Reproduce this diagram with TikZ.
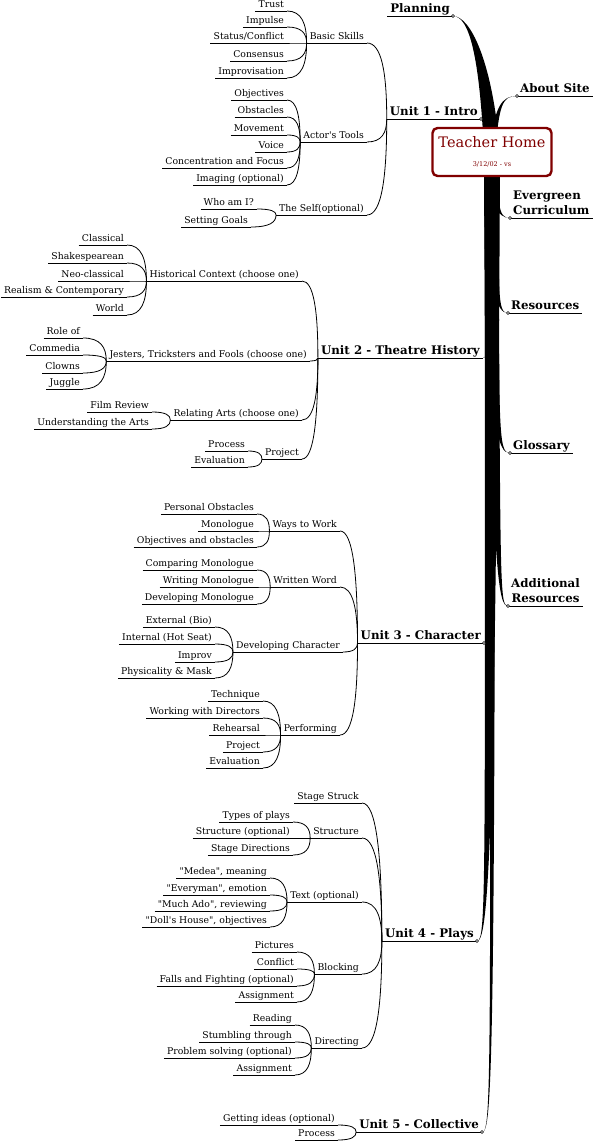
\documentclass[tikz,border=0pt]{standalone}
\usepackage{fontspec}
\setmainfont{DejaVu Serif}
\usepackage{tikz}
\usetikzlibrary{calc, backgrounds}
\usepackage{xcolor}
\definecolor{homered}{RGB}{128, 0, 0}
\definecolor{inkdark}{RGB}{0, 0, 0}
\newcommand{\leaffont}{\fontsize{9.3}{11}\selectfont}
\newcommand{\unitfont}{\fontsize{11.8}{15}\selectfont\bfseries}

% tapered branch from the hub to a main topic
\newcommand{\mapbranch}[4]{%
  \fill[inkdark] ($(home.center)+(-#2,0)$) .. controls ($(#3)+(-0.8*#2,0)$) and (#4) .. (#1)
    .. controls (#4) and ($(#3)+(0.8*#2,0)$) .. ($(home.center)+(#2,0)$) -- cycle;}

\begin{document}
\begin{tikzpicture}[
    x=1pt, y=-1pt,
    leaf/.style={font=\leaffont, inner xsep=3pt, inner ysep=1pt, text height=6.8pt, text depth=2.2pt, anchor=south east,
        append after command={(\tikzlastnode.south west) edge[line width=0.8pt] (\tikzlastnode.south east)}},
    unit/.style={font=\unitfont, inner xsep=3pt, inner ysep=1pt, text height=8.5pt, text depth=2.6pt, anchor=south east,
        append after command={(\tikzlastnode.south west) edge[line width=1pt] (\tikzlastnode.south east)}},
    side/.style={unit, anchor=south west, align=left},
    home/.style={draw=homered, line width=2.4pt, rounded corners=5pt, fill=white, text=homered, minimum width=119pt, minimum height=48pt, align=center, font=\fontsize{14.5}{16}\selectfont},
    link/.style={line width=0.8pt, to path={.. controls ($(\tikztostart)!0.75!(\tikztostart -| \tikztotarget)$) and ($(\tikztotarget)!0.6!(\tikztostart -| \tikztotarget)$) .. (\tikztotarget)}},
    knot/.style={draw, line width=0.6pt, fill=white}
]
\useasboundingbox (0,0) rectangle (598,1143);

% Hub
\node[home] (home) at (492,152) {Teacher Home\\[3pt]{\fontsize{6.5}{7}\selectfont 3/12/02 - vs}};

% Right side topics
\node[unit] (planning) at (453,16) {Planning};
\node[side] (about) at (517,96) {About Site};
\node[side] (evergreen) at (510,218) {Evergreen\\Curriculum};
\node[side] (resources) at (508,313) {Resources};
\node[side] (glossary) at (510,453) {Glossary};
\node[side, align=center] (additional) at (508,606) {Additional\\Resources};

% Unit 1
\node[unit] (intro) at (481,119) {Unit 1 - Intro};
\node[leaf] (basic) at (367,43) {Basic Skills};
\node[leaf] (tools) at (367,142) {Actor\textquotesingle s Tools};
\node[leaf] (self) at (367,215) {The Self(optional)};
\node[leaf] (trust) at (287,11) {Trust};
\node[leaf] (impulse) at (287,27) {Impulse};
\node[leaf] (status) at (287,43) {Status/Conflict};
\node[leaf] (consensus) at (287,61) {Consensus};
\node[leaf] (improvisation) at (287,78) {Improvisation};
\node[leaf] (objectives) at (287,100) {Objectives};
\node[leaf] (obstacles) at (287,117) {Obstacles};
\node[leaf] (movement) at (287,135) {Movement};
\node[leaf] (voice) at (287,152) {Voice};
\node[leaf] (focus) at (287,168) {Concentration and Focus};
\node[leaf] (imaging) at (287,185) {Imaging (optional)};
\node[leaf] (whoami) at (257,209) {Who am I?};
\node[leaf] (goals) at (251,227) {Setting Goals};

\draw[link] (trust.south east) to (basic.south west);
\draw[link] (impulse.south east) to (basic.south west);
\draw[link] (status.south east) to (basic.south west);
\draw[link] (consensus.south east) to (basic.south west);
\draw[link] (improvisation.south east) to (basic.south west);
\draw[link] (objectives.south east) to (tools.south west);
\draw[link] (obstacles.south east) to (tools.south west);
\draw[link] (movement.south east) to (tools.south west);
\draw[link] (voice.south east) to (tools.south west);
\draw[link] (focus.south east) to (tools.south west);
\draw[link] (imaging.south east) to (tools.south west);
\draw[link] (whoami.south east) to (self.south west);
\draw[link] (goals.south east) to (self.south west);
\draw[link] (basic.south east) to (intro.south west);
\draw[link] (tools.south east) to (intro.south west);
\draw[link] (self.south east) to (intro.south west);

% Unit 2
\node[unit] (history) at (483,358) {Unit 2 - Theatre History};
\node[leaf] (context) at (302,281) {Historical Context (choose one)};
\node[leaf] (jesters) at (310,361) {Jesters, Tricksters and Fools (choose one)};
\node[leaf] (relating) at (302,420) {Relating Arts (choose one)};
\node[leaf] (project) at (302,459) {Project};
\node[leaf] (classical) at (127,245) {Classical};
\node[leaf] (shakespeare) at (127,263) {Shakespearean};
\node[leaf] (neoclassical) at (127,281) {Neo-classical};
\node[leaf] (realism) at (127,297) {Realism \& Contemporary};
\node[leaf] (world) at (127,315) {World};
\node[leaf] (roleof) at (83,338) {Role of};
\node[leaf] (commedia) at (83,355) {Commedia};
\node[leaf] (clowns) at (83,373) {Clowns};
\node[leaf] (juggle) at (83,389) {Juggle};
\node[leaf] (film) at (152,412) {Film Review};
\node[leaf] (arts) at (152,429) {Understanding the Arts};
\node[leaf] (process) at (248,451) {Process};
\node[leaf] (evaluation) at (248,467) {Evaluation};

\draw[link] (classical.south east) to (context.south west);
\draw[link] (shakespeare.south east) to (context.south west);
\draw[link] (neoclassical.south east) to (context.south west);
\draw[link] (realism.south east) to (context.south west);
\draw[link] (world.south east) to (context.south west);
\draw[link] (roleof.south east) to (jesters.south west);
\draw[link] (commedia.south east) to (jesters.south west);
\draw[link] (clowns.south east) to (jesters.south west);
\draw[link] (juggle.south east) to (jesters.south west);
\draw[link] (film.south east) to (relating.south west);
\draw[link] (arts.south east) to (relating.south west);
\draw[link] (process.south east) to (project.south west);
\draw[link] (evaluation.south east) to (project.south west);
\draw[link] (context.south east) to (history.south west);
\draw[link] (jesters.south east) to (history.south west);
\draw[link] (relating.south east) to (history.south west);
\draw[link] (project.south east) to (history.south west);

% Unit 3
\node[unit] (character) at (484,643) {Unit 3 - Character};
\node[leaf] (ways) at (340,531) {Ways to Work};
\node[leaf] (written) at (340,587) {Written Word};
\node[leaf] (developing) at (343,652) {Developing Character};
\node[leaf] (performing) at (340,735) {Performing};
\node[leaf] (personal) at (257,514) {Personal Obstacles};
\node[leaf] (monologue) at (257,531) {Monologue};
\node[leaf] (objobs) at (257,547) {Objectives and obstacles};
\node[leaf] (comparing) at (257,570) {Comparing Monologue};
\node[leaf] (writing) at (257,587) {Writing Monologue};
\node[leaf] (devmono) at (257,604) {Developing Monologue};
\node[leaf] (external) at (215,627) {External (Bio)};
\node[leaf] (internal) at (215,644) {Internal (Hot Seat)};
\node[leaf] (improv) at (215,662) {Improv};
\node[leaf] (physical) at (215,678) {Physicality \& Mask};
\node[leaf] (technique) at (263,701) {Technique};
\node[leaf] (directors) at (263,718) {Working with Directors};
\node[leaf] (rehearsal) at (263,735) {Rehearsal};
\node[leaf] (project3) at (263,752) {Project};
\node[leaf] (evaluation3) at (263,768) {Evaluation};

\draw[link] (personal.south east) to (ways.south west);
\draw[link] (monologue.south east) to (ways.south west);
\draw[link] (objobs.south east) to (ways.south west);
\draw[link] (comparing.south east) to (written.south west);
\draw[link] (writing.south east) to (written.south west);
\draw[link] (devmono.south east) to (written.south west);
\draw[link] (external.south east) to (developing.south west);
\draw[link] (internal.south east) to (developing.south west);
\draw[link] (improv.south east) to (developing.south west);
\draw[link] (physical.south east) to (developing.south west);
\draw[link] (technique.south east) to (performing.south west);
\draw[link] (directors.south east) to (performing.south west);
\draw[link] (rehearsal.south east) to (performing.south west);
\draw[link] (project3.south east) to (performing.south west);
\draw[link] (evaluation3.south east) to (performing.south west);
\draw[link] (ways.south east) to (character.south west);
\draw[link] (written.south east) to (character.south west);
\draw[link] (developing.south east) to (character.south west);
\draw[link] (performing.south east) to (character.south west);

% Unit 4
\node[unit] (plays) at (477,941) {Unit 4 - Plays};
\node[leaf] (struck) at (362,803) {Stage Struck};
\node[leaf] (structure) at (362,838) {Structure};
\node[leaf] (textopt) at (362,902) {Text (optional)};
\node[leaf] (blocking) at (362,974) {Blocking};
\node[leaf] (directing) at (362,1048) {Directing};
\node[leaf] (types) at (293,822) {Types of plays};
\node[leaf] (structopt) at (293,838) {Structure (optional)};
\node[leaf] (stagedir) at (293,855) {Stage Directions};
\node[leaf] (medea) at (270,878) {\textquotedbl Medea\textquotedbl, meaning};
\node[leaf] (everyman) at (270,895) {\textquotedbl Everyman\textquotedbl, emotion};
\node[leaf] (muchado) at (270,911) {\textquotedbl Much Ado\textquotedbl, reviewing};
\node[leaf] (dollshouse) at (270,927) {\textquotedbl Doll\textquotesingle s House\textquotedbl, objectives};
\node[leaf] (pictures) at (297,952) {Pictures};
\node[leaf] (conflict) at (297,969) {Conflict};
\node[leaf] (falls) at (297,986) {Falls and Fighting (optional)};
\node[leaf] (assign4) at (297,1002) {Assignment};
\node[leaf] (reading) at (295,1025) {Reading};
\node[leaf] (stumbling) at (295,1042) {Stumbling through};
\node[leaf] (problem) at (295,1058) {Problem solving (optional)};
\node[leaf] (assign5) at (295,1075) {Assignment};

\draw[link] (types.south east) to (structure.south west);
\draw[link] (structopt.south east) to (structure.south west);
\draw[link] (stagedir.south east) to (structure.south west);
\draw[link] (medea.south east) to (textopt.south west);
\draw[link] (everyman.south east) to (textopt.south west);
\draw[link] (muchado.south east) to (textopt.south west);
\draw[link] (dollshouse.south east) to (textopt.south west);
\draw[link] (pictures.south east) to (blocking.south west);
\draw[link] (conflict.south east) to (blocking.south west);
\draw[link] (falls.south east) to (blocking.south west);
\draw[link] (assign4.south east) to (blocking.south west);
\draw[link] (reading.south east) to (directing.south west);
\draw[link] (stumbling.south east) to (directing.south west);
\draw[link] (problem.south east) to (directing.south west);
\draw[link] (assign5.south east) to (directing.south west);
\draw[link] (struck.south east) to (plays.south west);
\draw[link] (structure.south east) to (plays.south west);
\draw[link] (textopt.south east) to (plays.south west);
\draw[link] (blocking.south east) to (plays.south west);
\draw[link] (directing.south east) to (plays.south west);

% Unit 5
\node[unit] (collective) at (482,1132) {Unit 5 - Collective};
\node[leaf] (ideas) at (338,1125) {Getting ideas (optional)};
\node[leaf] (process5) at (338,1140) {Process};

\draw[link] (ideas.south east) to (collective.south west);
\draw[link] (process5.south east) to (collective.south west);

% Branches from the hub
\begin{scope}[on background layer]
\fill[white] (0,0) rectangle (598,1143);
\mapbranch{planning.south east}{8}{486,60}{470,16}
\mapbranch{about.south west}{3}{497,105}{502,96}
\mapbranch{intro.south east}{3}{490,128}{486,119}
\mapbranch{evergreen.south west}{6}{493,205}{498,218}
\mapbranch{resources.south west}{7}{493,295}{497,313}
\mapbranch{history.south east}{8}{491,340}{489,358}
\mapbranch{glossary.south west}{7}{493,435}{498,453}
\mapbranch{additional.south west}{6}{496,585}{499,606}
\mapbranch{character.south east}{8}{492,625}{490,643}
\mapbranch{plays.south east}{7}{490,880}{487,941}
\mapbranch{collective.south east}{3}{493,1080}{492,1132}
\end{scope}

% Joints
\draw[knot] (planning.south east) circle (1.5);
\draw[knot] (about.south west) circle (1.5);
\draw[knot] (intro.south east) circle (1.5);
\draw[knot] (evergreen.south west) circle (1.5);
\draw[knot] (resources.south west) circle (1.5);
\draw[knot] (glossary.south west) circle (1.5);
\draw[knot] (additional.south west) circle (1.5);
\draw[knot] (character.south east) circle (1.5);
\draw[knot] (plays.south east) circle (1.5);
\draw[knot] (collective.south east) circle (1.5);

\end{tikzpicture}
\end{document}
